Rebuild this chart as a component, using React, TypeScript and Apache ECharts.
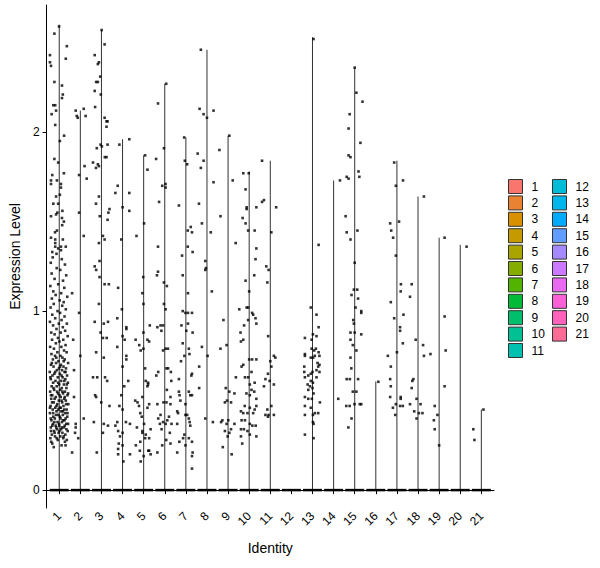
import React, { useEffect, useRef } from 'react';
import * as echarts from 'echarts';

const clusters = ['1', '2', '3', '4', '5', '6', '7', '8', '9', '10', '11', '12', '13', '14', '15', '16', '17', '18', '19', '20', '21'];

const clusterColors = [
  '#F8766D', '#EA8331', '#D89000', '#C49A00', '#A9A400', '#85AD00', '#53B400',
  '#00BA38', '#00BE6C', '#00C094', '#00C0AF', '#00BCD6', '#00B6EB', '#00ABFD',
  '#619CFF', '#A58AFF', '#CB7AFF', '#E96AF1', '#FB61D7', '#FF62BA', '#FC6A96',
];

// top of each (very thin) violin
const violinMax = [2.6, 2.12, 2.57, 1.96, 1.87, 2.27, 1.97, 2.46, 1.98, 1.78, 1.84, 0, 2.53, 1.73, 2.36, 0.607, 1.84, 1.64, 1.41, 1.37, 0.45];

// half width of the band of zero values
const zeroHalfWidth = [0.45, 0.45, 0.45, 0.45, 0.45, 0.45, 0.45, 0.45, 0.45, 0.45, 0.45, 0.45, 0.45, 0.45, 0.45, 0.45, 0.45, 0.45, 0.45, 0.45, 0.45];

// jittered cells: [offset from cluster centre, expression]
const c1Points = [
  [-0.01, 2.59], [-0.23, 2.55], [0.36, 2.48], [-0.44, 2.43], [0.31, 2.41], [-0.44, 2.39], [-0.39, 2.37], [-0.23, 2.28], [0.13, 2.26], [0.17, 2.21],
  [0.13, 2.19], [-0.28, 2.15], [-0.19, 2.15], [-0.15, 2.12], [-0.36, 2.1], [-0.19, 2.04], [0.23, 1.98], [0.03, 1.95], [-0.23, 1.85], [-0.05, 1.83],
  [0.22, 1.77], [-0.33, 1.76], [-0.39, 1.73], [-0.11, 1.73], [0.08, 1.71], [-0.39, 1.71], [0.08, 1.69], [0.03, 1.65], [-0.15, 1.64], [-0.28, 1.6],
  [-0.05, 1.6], [0.15, 1.56], [-0.09, 1.55], [-0.15, 1.54], [-0.39, 1.53], [0.13, 1.52], [0.22, 1.5], [0.14, 1.48], [-0.11, 1.45], [-0.2, 1.44],
  [-0.39, 1.41], [-0.19, 1.4], [0.17, 1.4], [-0.19, 1.38], [-0.19, 1.36], [0.08, 1.36], [-0.05, 1.35], [0.31, 1.36], [-0.33, 1.33], [0.08, 1.34],
  [-0.13, 1.32],
  [-0.31, 1.3], [0.12, 1.29], [-0.4, 1.27], [0.27, 1.26], [-0.12, 1.24], [0.05, 1.23], [-0.36, 1.21], [0.33, 1.2], [-0.22, 1.18], [0.18, 1.17],
  [-0.05, 1.15], [-0.42, 1.14], [0.24, 1.13], [-0.28, 1.11], [0.09, 1.1], [-0.17, 1.09], [0.38, 1.08], [-0.35, 1.07], [0.02, 1.06], [0.21, 1.05],
  [-0.26, 1.04], [0.14, 1.03], [-0.41, 1.02], [0.31, 1.01], [-0.08, 1.0], [0.04, 0.99], [-0.33, 0.98], [0.25, 0.97], [-0.19, 0.96], [0.11, 0.95],
  [-0.44, 0.94], [0.36, 0.93], [-0.02, 0.93], [-0.29, 0.92], [0.17, 0.91], [-0.13, 0.9], [0.28, 0.89], [-0.38, 0.88], [0.07, 0.88], [-0.22, 0.87],
  [0.4, 0.86], [-0.06, 0.85], [0.19, 0.84], [-0.34, 0.84], [0.01, 0.83], [-0.16, 0.82], [0.3, 0.81], [-0.43, 0.8], [0.1, 0.8], [-0.25, 0.79],
  [0.23, 0.78], [-0.09, 0.77], [0.35, 0.77], [-0.37, 0.76], [0.06, 0.75], [-0.2, 0.75], [0.15, 0.74], [-0.3, 0.73], [0.26, 0.73], [-0.04, 0.72],
  [0.42, 0.71], [-0.15, 0.71], [0.08, 0.7], [-0.39, 0.7], [0.2, 0.69], [-0.27, 0.69], [-0.01, 0.68], [0.32, 0.68], [-0.11, 0.67], [0.13, 0.67],
  [-0.45, 0.66], [0.25, 0.66], [-0.23, 0.65], [0.03, 0.65], [0.37, 0.64], [-0.32, 0.64], [0.16, 0.63], [-0.07, 0.63], [-0.4, 0.62], [0.29, 0.62],
  [0.09, 0.61], [-0.18, 0.61], [0.41, 0.6], [-0.29, 0.6], [0.0, 0.59], [0.22, 0.59], [-0.36, 0.58], [-0.12, 0.58], [0.34, 0.57], [0.12, 0.57],
  [-0.24, 0.56], [0.05, 0.56], [-0.43, 0.55], [0.27, 0.55], [-0.06, 0.54], [0.18, 0.54], [-0.33, 0.53], [0.39, 0.53], [-0.16, 0.52], [0.07, 0.52],
  [-0.38, 0.51], [0.24, 0.51], [-0.02, 0.5], [0.31, 0.5], [-0.26, 0.49], [0.14, 0.49], [-0.09, 0.48], [0.43, 0.48], [-0.41, 0.47], [0.2, 0.47],
  [-0.19, 0.46], [0.02, 0.46], [0.35, 0.45], [-0.31, 0.45], [0.1, 0.44], [-0.13, 0.44], [0.28, 0.43], [-0.44, 0.43], [-0.04, 0.42], [0.17, 0.42],
  [-0.28, 0.41], [0.38, 0.41], [0.06, 0.4], [-0.21, 0.4], [0.25, 0.39], [-0.37, 0.39], [-0.08, 0.38], [0.13, 0.38], [0.33, 0.37], [-0.3, 0.37],
  [0.0, 0.36], [-0.17, 0.36], [0.22, 0.35], [-0.4, 0.35], [0.09, 0.34], [-0.11, 0.34], [0.4, 0.33], [-0.25, 0.33], [0.15, 0.32], [-0.03, 0.32],
  [-0.35, 0.31], [0.29, 0.31], [0.05, 0.3], [-0.2, 0.3], [0.19, 0.29], [-0.42, 0.29], [-0.07, 0.28], [0.36, 0.28], [-0.33, 0.26], [0.11, 0.25],
  [-0.26, 0.24], [0.3, 0.25],
  [-0.14, 0.74], [0.21, 0.72], [-0.35, 0.71], [0.04, 0.69], [0.3, 0.66], [-0.19, 0.66], [0.11, 0.64], [-0.42, 0.63], [0.24, 0.61], [-0.05, 0.6],
  [0.36, 0.59], [-0.27, 0.57], [0.15, 0.55], [-0.1, 0.55], [0.42, 0.54], [-0.39, 0.53], [0.01, 0.53], [0.26, 0.52], [-0.22, 0.51], [0.11, 0.5],
  [-0.34, 0.49], [0.33, 0.48], [-0.13, 0.47], [0.07, 0.46], [-0.44, 0.46], [0.23, 0.45], [-0.05, 0.45], [0.17, 0.44], [-0.29, 0.43], [0.39, 0.43],
  [-0.15, 0.42], [0.03, 0.41], [0.3, 0.4], [-0.4, 0.4], [0.18, 0.39], [-0.23, 0.38], [0.42, 0.37], [-0.01, 0.37], [-0.33, 0.36], [0.26, 0.36],
  [0.12, 0.35], [-0.14, 0.35], [-0.39, 0.33], [0.34, 0.34], [0.01, 0.33], [-0.22, 0.32], [0.21, 0.3], [-0.12, 0.29], [0.27, 0.27], [-0.38, 0.27],
];
const c2Points = [
  [-0.22, 2.12], [-0.17, 2.09], [-0.12, 2.08], [0.16, 2.13], [0.25, 2.09], [0.2, 1.81], [-0.06, 1.76], [0.3, 1.74], [-0.06, 1.55], [0.16, 1.42],
  [-0.39, 1.1], [-0.06, 0.99], [-0.34, 0.84], [0.0, 0.75], [-0.3, 0.67], [-0.3, 0.52], [0.16, 0.4], [-0.22, 0.37], [-0.22, 0.35], [-0.25, 0.32],
  [-0.1, 0.29], [-0.39, 0.21],
];
const c3Points = [
  [0.01, 2.57], [0.15, 2.49], [-0.32, 2.43], [-0.12, 2.39], [-0.17, 2.38], [-0.06, 2.31], [-0.25, 2.28], [-0.17, 2.28], [-0.32, 2.23], [-0.03, 2.21],
  [-0.3, 2.14], [0.15, 2.08], [0.24, 2.06], [0.29, 2.06], [0.24, 2.03], [-0.04, 1.93], [0.02, 1.92], [0.29, 1.93], [-0.22, 1.91], [0.24, 1.86],
  [0.16, 1.86], [-0.4, 1.83], [-0.17, 1.82], [-0.12, 1.81], [-0.26, 1.8], [-0.12, 1.64], [-0.26, 1.6], [0.38, 1.57], [0.33, 1.55], [-0.08, 1.53],
  [0.29, 1.51], [0.07, 1.42], [0.15, 1.4], [-0.12, 1.38],
  [-0.32, 1.25], [-0.25, 1.23], [-0.09, 1.28], [-0.09, 1.19], [0.15, 1.15], [0.35, 1.15], [-0.12, 1.04], [-0.32, 0.94], [0.11, 0.93], [0.31, 0.94],
  [-0.04, 0.88], [0.07, 0.85], [0.25, 0.85], [-0.25, 0.77], [0.11, 0.74], [-0.2, 0.63], [-0.4, 0.63], [0.27, 0.61], [0.17, 0.63], [-0.3, 0.53],
  [-0.25, 0.52], [-0.01, 0.49], [0.38, 0.47], [-0.36, 0.38], [0.11, 0.37], [0.31, 0.36], [0.07, 0.32], [-0.22, 0.21],
];
const c4Points = [
  [0.32, 1.96], [-0.15, 1.93], [-0.23, 1.7], [-0.34, 1.66], [0.32, 1.66], [0.0, 1.58], [0.32, 1.56], [-0.06, 1.4],
  [-0.21, 1.13], [-0.03, 1.01], [-0.25, 0.96], [0.18, 0.91], [0.18, 0.9], [0.0, 0.86], [0.1, 0.84], [-0.25, 0.8], [0.18, 0.75], [0.18, 0.73],
  [0.0, 0.69], [0.08, 0.58], [-0.06, 0.53], [0.27, 0.61], [-0.15, 0.47], [0.0, 0.45], [-0.25, 0.38], [0.16, 0.38], [0.35, 0.37], [-0.21, 0.33],
  [0.0, 0.32], [-0.12, 0.3], [-0.18, 0.26], [0.0, 0.25], [-0.21, 0.23], [-0.21, 0.2], [0.04, 0.16], [0.35, 0.2], [-0.34, 0.36],
];
const c5Points = [
  [0.07, 1.87], [0.18, 1.79], [0.02, 1.49], [-0.34, 1.42],
  [-0.02, 1.19], [-0.06, 1.1], [0.29, 0.92], [0.18, 0.84], [0.26, 0.83], [0.07, 0.68], [0.1, 0.61], [0.21, 0.59], [-0.06, 0.52], [0.26, 0.48],
  [0.18, 0.46], [0.02, 0.37], [0.33, 0.34], [-0.06, 0.32], [0.07, 0.29], [0.26, 0.29], [0.22, 0.22], [0.33, 0.2], [0.0, 0.19],
  [-0.38, 0.84], [-0.21, 0.81], [-0.14, 0.78], [-0.01, 1.04], [-0.22, 0.47], [-0.29, 0.49], [-0.4, 0.5], [-0.16, 0.43], [-0.09, 0.41],
  [-0.32, 0.35], [-0.06, 0.33], [-0.16, 0.27], [-0.37, 0.25], [-0.18, 0.22], [-0.14, 0.16], [0.21, 0.6], [0.18, 0.58], [0.1, 0.31],
  [0.26, 0.22], [-0.01, 0.88], [-0.01, 0.79],
];
const c6Points = [
  [0.07, 2.27], [-0.32, 2.16], [-0.04, 1.91], [-0.41, 1.85], [0.04, 1.71], [0.04, 1.69], [-0.12, 1.7], [-0.27, 1.61], [-0.32, 1.36],
  [-0.32, 1.22], [-0.37, 1.2], [-0.04, 1.16], [0.1, 1.14], [-0.04, 1.04], [0.04, 1.01], [-0.2, 0.92], [-0.35, 0.91], [-0.08, 0.92], [-0.16, 0.89],
  [0.04, 0.79], [0.15, 0.79], [-0.08, 0.78], [0.08, 0.68], [0.16, 0.68], [0.29, 0.66], [-0.31, 0.66], [-0.4, 0.64], [0.31, 0.61], [0.1, 0.56],
  [0.27, 0.52], [-0.06, 0.49], [0.08, 0.49], [-0.35, 0.48], [0.27, 0.48], [-0.2, 0.42], [0.2, 0.41], [-0.31, 0.4], [-0.08, 0.38], [0.04, 0.37],
  [0.12, 0.39], [-0.23, 0.37], [-0.15, 0.34], [0.24, 0.32], [0.07, 0.28], [0.27, 0.26], [-0.12, 0.25], [-0.35, 0.21], [0.32, 0.37],
];
const c7Points = [
  [-0.08, 1.97], [-0.05, 1.84], [0.06, 1.82], [-0.33, 1.59], [0.23, 1.47], [0.09, 1.45], [0.29, 1.44], [0.09, 1.36], [0.32, 1.33], [-0.18, 1.31],
  [-0.15, 1.2], [0.1, 1.1], [-0.15, 1.0], [-0.02, 0.99], [0.1, 0.99], [0.29, 0.99], [-0.21, 0.92], [0.1, 0.93], [0.02, 0.89], [0.32, 0.88],
  [-0.15, 0.82], [0.14, 0.79], [0.17, 0.76], [-0.07, 0.75], [-0.23, 0.72], [0.29, 0.65], [0.26, 0.64], [-0.33, 0.62], [0.14, 0.55], [0.21, 0.53],
  [0.29, 0.53], [-0.33, 0.55], [-0.3, 0.53], [-0.26, 0.5], [-0.02, 0.48], [-0.41, 0.44], [-0.37, 0.43], [-0.02, 0.42], [0.06, 0.42], [0.14, 0.4],
  [0.18, 0.38], [0.21, 0.36], [-0.41, 0.37], [-0.07, 0.31], [-0.13, 0.29], [-0.31, 0.27], [0.14, 0.29], [0.29, 0.27], [-0.02, 0.25], [-0.41, 0.21],
  [0.32, 0.21], [0.29, 0.19], [0.29, 0.12],
];
const c8Points = [
  [-0.29, 2.46], [-0.35, 2.13], [-0.16, 2.1], [0.0, 2.08], [0.31, 2.12], [-0.44, 1.88], [-0.16, 1.84], [-0.29, 1.8], [0.31, 1.72], [-0.38, 1.6],
  [-0.24, 1.49], [0.18, 1.44], [-0.08, 1.28], [-0.05, 1.24], [-0.08, 1.23], [0.23, 1.11], [-0.24, 0.8], [0.03, 0.75], [-0.37, 0.69], [-0.37, 0.57],
  [-0.08, 0.4], [0.28, 0.38],
];
const c9Points = [
  [0.06, 1.98], [-0.41, 1.9], [0.22, 1.73], [-0.36, 1.53], [0.36, 1.38],
  [-0.22, 0.95], [-0.07, 0.81], [-0.36, 0.79], [0.37, 0.63], [-0.11, 0.57], [0.06, 0.55], [0.3, 0.54], [-0.15, 0.49], [-0.05, 0.5], [0.14, 0.49],
  [-0.33, 0.38], [-0.27, 0.39], [0.01, 0.39], [-0.07, 0.37], [0.3, 0.37], [0.14, 0.34], [-0.15, 0.33], [0.06, 0.32], [-0.02, 0.3], [-0.25, 0.24],
  [0.17, 0.2],
];
const c10Points = [
  [-0.02, 1.77], [-0.28, 1.77], [-0.17, 1.68], [-0.12, 1.58], [-0.12, 1.57], [0.34, 1.58], [-0.31, 1.52], [-0.17, 1.49], [-0.05, 1.45], [0.26, 1.45],
  [0.34, 1.35], [0.3, 1.29],
  [0.24, 1.2], [-0.17, 1.17], [0.0, 1.11], [-0.12, 1.02], [-0.05, 1.02], [-0.47, 1.01], [0.14, 0.99], [0.19, 0.98], [-0.05, 0.95], [0.3, 0.96],
  [0.34, 0.93], [-0.24, 0.92], [-0.41, 0.88], [-0.28, 0.84], [-0.39, 0.83], [0.0, 0.73], [0.14, 0.73], [0.34, 0.73], [-0.28, 0.7], [-0.36, 0.69],
  [0.11, 0.66], [-0.2, 0.63], [-0.05, 0.63], [0.26, 0.6], [0.03, 0.59], [0.11, 0.56], [0.24, 0.55], [-0.13, 0.54], [0.03, 0.53], [0.34, 0.51],
  [-0.21, 0.47], [0.03, 0.46], [0.34, 0.47], [0.26, 0.45], [-0.39, 0.44], [-0.28, 0.43], [-0.08, 0.43], [0.19, 0.43], [-0.36, 0.39], [-0.2, 0.39],
  [0.03, 0.37], [0.15, 0.36], [0.31, 0.36], [-0.39, 0.34], [-0.25, 0.34], [-0.08, 0.33], [0.03, 0.31], [0.34, 0.3], [-0.39, 0.3], [-0.33, 0.26],
];
const c11Points = [
  [-0.39, 1.84], [-0.3, 1.62], [-0.39, 1.61], [0.28, 1.58], [0.05, 1.44],
  [-0.19, 1.25], [-0.08, 1.23], [-0.14, 1.16], [-0.1, 0.86], [0.17, 0.75], [0.24, 0.74], [0.0, 0.72], [0.05, 0.69], [-0.11, 0.65], [-0.23, 0.62],
  [-0.03, 0.61], [0.17, 0.59], [-0.3, 0.58], [0.05, 0.47], [-0.14, 0.45], [-0.23, 0.42], [-0.08, 0.42], [0.17, 0.42], [-0.11, 0.41],
];
const c12Points: number[][] = [];
const c13Points = [
  [0.05, 2.52], [0.29, 1.37],
  [-0.08, 1.02], [0.19, 0.98], [0.29, 0.91], [0.02, 0.87], [0.19, 0.86], [-0.36, 0.85], [-0.04, 0.84], [-0.04, 0.79], [0.16, 0.79], [0.08, 0.78],
  [-0.36, 0.76], [-0.36, 0.75], [-0.08, 0.74], [0.03, 0.74], [0.11, 0.75], [0.29, 0.77], [0.33, 0.75], [0.24, 0.71], [0.33, 0.7], [0.27, 0.69],
  [0.19, 0.67], [0.33, 0.66], [-0.39, 0.69], [-0.39, 0.66], [0.0, 0.66], [-0.08, 0.65], [-0.2, 0.64], [0.19, 0.63], [-0.36, 0.63], [-0.08, 0.61],
  [-0.23, 0.59], [-0.12, 0.58], [0.02, 0.6], [0.0, 0.57], [-0.2, 0.56], [0.05, 0.54], [-0.36, 0.52], [-0.2, 0.51], [-0.03, 0.51], [0.35, 0.49],
  [-0.36, 0.47], [-0.08, 0.46], [0.11, 0.43], [0.27, 0.43], [-0.36, 0.42], [0.02, 0.42], [0.02, 0.38], [0.05, 0.37], [-0.36, 0.31], [0.05, 0.29],
];
const c14Points = [[0.3, 1.73], [0.22, 0.51]];
const c15Points = [
  [0.0, 2.36], [0.08, 2.22], [0.37, 2.17], [-0.24, 2.1], [-0.29, 2.02], [0.27, 1.94], [-0.29, 1.87], [-0.2, 1.86], [0.18, 1.78], [0.22, 1.75],
  [-0.38, 1.75], [-0.29, 1.74], [-0.43, 1.53], [-0.38, 1.44], [0.13, 1.45], [-0.2, 1.4], [0.0, 1.27],
  [-0.04, 1.12], [0.12, 1.12], [-0.15, 1.09], [0.16, 1.07], [0.04, 1.02], [0.31, 1.0], [0.31, 0.99], [-0.07, 0.95], [-0.04, 0.93], [-0.2, 0.88],
  [0.0, 0.88], [0.31, 0.87], [-0.2, 0.84], [-0.09, 0.81], [0.08, 0.78], [-0.2, 0.74], [-0.16, 0.68], [-0.38, 0.62], [-0.23, 0.62], [0.16, 0.62],
  [-0.09, 0.55], [0.08, 0.55], [-0.4, 0.47], [-0.24, 0.47], [-0.01, 0.48], [0.24, 0.48], [0.31, 0.48], [-0.15, 0.4], [-0.3, 0.35],
];
const c16Points = [[0.12, 0.605]];
const c17Points = [
  [-0.13, 1.83], [0.29, 1.73], [-0.05, 1.7], [0.1, 1.5], [-0.32, 1.49], [-0.27, 1.45], [-0.18, 1.41], [-0.05, 1.31],
  [0.19, 1.15], [0.18, 1.11], [-0.29, 1.05], [-0.13, 0.96], [0.15, 0.91], [0.15, 0.89], [0.31, 0.98], [0.0, 0.77], [-0.43, 0.75], [-0.29, 0.69],
  [0.28, 0.82], [-0.32, 0.62], [-0.29, 0.58], [-0.32, 0.52], [-0.19, 0.46], [-0.08, 0.42], [-0.05, 0.48], [0.18, 0.52], [0.18, 0.51], [0.15, 0.47],
  [0.28, 0.47],
];
const c18Points = [
  [0.28, 1.64], [-0.3, 1.15], [-0.38, 1.08], [-0.11, 0.84], [0.24, 0.81], [0.28, 0.75], [-0.22, 0.62], [-0.27, 0.61], [-0.3, 0.57], [-0.38, 0.48],
  [-0.07, 0.51], [0.12, 0.48], [-0.18, 0.44], [0.04, 0.43], [0.21, 0.43], [-0.07, 0.4],
];
const c19Points = [
  [0.26, 1.41], [-0.41, 0.76], [0.26, 0.97], [0.31, 0.78], [0.26, 0.58], [-0.21, 0.47], [-0.08, 0.42], [-0.25, 0.39], [-0.21, 0.34], [0.0, 0.25],
];
const c20Points = [[0.3, 1.36]];
const c21Points = [[0.1, 0.45], [-0.38, 0.34], [-0.33, 0.28]];

const pointsByCluster = [
  c1Points, c2Points, c3Points, c4Points, c5Points, c6Points, c7Points, c8Points, c9Points, c10Points, c11Points,
  c12Points, c13Points, c14Points, c15Points, c16Points, c17Points, c18Points, c19Points, c20Points, c21Points,
];

const yTicks = [0, 1, 2];

export default function App() {
  const chartRef = useRef<HTMLDivElement>(null);

  useEffect(() => {
    if (!chartRef.current) return;
    const chart = echarts.init(chartRef.current, null, { renderer: 'svg' });
    const font = '"Liberation Sans", Arial, sans-serif';

    const jitter: number[][] = [];
    pointsByCluster.forEach((pts, i) => {
      pts.forEach(([dx, y]) => jitter.push([i + 1 + dx, y]));
    });

    const xTicks = clusters.map((_, i) => i + 1);

    // one custom series per cluster: the violin (a vertical line here) + legend key
    const violinSeries = clusters.map((name, i) => ({
      name,
      type: 'custom',
      silent: true,
      itemStyle: { color: clusterColors[i] },
      data: [[i + 1, violinMax[i]]],
      renderItem: (params: any, api: any) => {
        const top = api.value(1);
        if (!(top > 0)) return null;
        const p0 = api.coord([api.value(0), 0]);
        const p1 = api.coord([api.value(0), top]);
        return {
          type: 'line',
          shape: { x1: p0[0], y1: p0[1], x2: p1[0], y2: p1[1] },
          style: { stroke: '#333', lineWidth: 1 },
        };
      },
    }));

    const legendBase = {
      orient: 'vertical',
      top: 179,
      padding: 0,
      itemWidth: 14,
      itemHeight: 14,
      itemGap: 1.4,
      icon: 'rect',
      selectedMode: false,
      itemStyle: { borderColor: '#333', borderWidth: 1 },
      textStyle: { fontSize: 12, color: '#000', fontFamily: font, padding: [0, 0, 0, 4] },
    };

    chart.setOption({
      animation: false,
      backgroundColor: '#fff',
      grid: { left: 43, right: 106, top: 5, bottom: 60 },
      legend: [
        { ...legendBase, left: 508, data: clusters.slice(0, 11) },
        { ...legendBase, left: 552, data: clusters.slice(11) },
      ],
      xAxis: {
        type: 'value',
        min: 0.4,
        max: 21.6,
        name: 'Identity',
        nameLocation: 'middle',
        nameGap: 33,
        nameTextStyle: { fontSize: 14, color: '#000', fontFamily: font },
        axisLine: { show: true, lineStyle: { color: '#000', width: 1 } },
        axisTick: { show: true, customValues: xTicks, length: 4, lineStyle: { color: '#000' } },
        axisLabel: {
          customValues: xTicks,
          rotate: 45,
          margin: 6,
          fontSize: 12,
          color: '#000',
          fontFamily: font,
          formatter: (v: number) => String(v),
        },
        splitLine: { show: false },
      },
      yAxis: {
        type: 'value',
        min: -0.1,
        max: 2.71,
        name: 'Expression Level',
        nameLocation: 'middle',
        nameGap: 12,
        nameTextStyle: { fontSize: 14, color: '#000', fontFamily: font },
        axisLine: { show: true, lineStyle: { color: '#000', width: 1 } },
        axisTick: { show: true, customValues: yTicks, length: 4, lineStyle: { color: '#000' } },
        axisLabel: { customValues: yTicks, margin: 7, fontSize: 12, color: '#000', fontFamily: font },
        splitLine: { show: false },
      },
      series: [
        ...violinSeries,
        {
          type: 'custom',
          silent: true,
          z: 3,
          data: clusters.map((_, i) => [i + 1, zeroHalfWidth[i]]),
          renderItem: (params: any, api: any) => {
            const c = api.value(0);
            const hw = api.value(1);
            const a = api.coord([c - hw, 0]);
            const b = api.coord([c + hw, 0]);
            return {
              type: 'line',
              shape: { x1: a[0], y1: a[1], x2: b[0], y2: b[1] },
              style: { stroke: '#000', lineWidth: 2.5 },
            };
          },
        },
        {
          type: 'scatter',
          silent: true,
          z: 5,
          symbol: 'rect',
          symbolSize: 2.6,
          itemStyle: { color: '#000' },
          data: jitter,
        },
      ],
    });

    return () => {
      chart.dispose();
    };
  }, []);

  return (
    <div
      ref={chartRef}
      style={{ position: 'absolute', left: 0, top: 0, width: 600, height: 568 }}
    />
  );
}
